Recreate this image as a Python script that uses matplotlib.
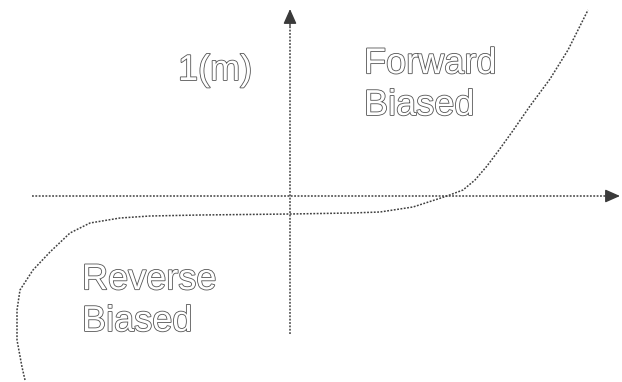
import matplotlib
matplotlib.use("Agg")
import matplotlib.pyplot as plt
import matplotlib.patheffects as pe

# Diode I-V characteristic (arbitrary units)
voltage = [-2.65, -2.68, -2.73, -2.73, -2.70, -2.57, -2.40, -2.20, -2.00, -1.70,
           -1.40, -0.90, 0.00, 0.61, 0.90, 1.23, 1.57, 1.73, 1.85, 1.97,
           2.09, 2.22, 2.40, 2.60, 2.78, 2.98]
current = [-1.84, -1.71, -1.44, -1.14, -0.94, -0.74, -0.56, -0.37, -0.27, -0.22,
           -0.20, -0.19, -0.18, -0.17, -0.16, -0.11, 0.00, 0.06, 0.16, 0.30,
           0.46, 0.64, 0.90, 1.17, 1.46, 1.86]

# Axis extents
x_axis = [-2.58, 3.16]
y_axis = [-1.38, 1.70]
x_tip = 3.30
y_tip = 1.87

labels = ["1(m)", "Forward\nBiased", "Reverse\nBiased"]

col = "#404040"
fig = plt.figure(figsize=(6.22, 3.82), dpi=100)
ax = fig.add_axes([0, 0, 1, 1])
ax.set_xlim(-2.90, 3.32)
ax.set_ylim(-1.86, 1.96)
ax.axis("off")

ls = (0, (1.2, 1.0))
ax.plot(x_axis, [0, 0], color=col, lw=1.1, ls=ls)
ax.plot([0, 0], y_axis, color=col, lw=1.1, ls=ls)
ax.annotate("", xy=(x_tip, 0), xytext=(x_axis[1], 0),
            arrowprops=dict(arrowstyle="-|>,head_length=0.9,head_width=0.4",
                            color="#3a3a3a", lw=1, shrinkA=0, shrinkB=0))
ax.annotate("", xy=(0, y_tip), xytext=(0, y_axis[1]),
            arrowprops=dict(arrowstyle="-|>,head_length=0.9,head_width=0.4",
                            color="#3a3a3a", lw=1, shrinkA=0, shrinkB=0))

ax.plot(voltage, current, color=col, lw=1.1, ls=ls)

eff = [pe.withStroke(linewidth=1.2, foreground="#555555")]
txt = dict(fontsize=26, family="Liberation Sans", color="white",
           path_effects=eff, va="baseline", ha="left", linespacing=1.25)
ax.text(-1.12, 1.16, labels[0], **txt)
ax.text(0.74, 0.81, labels[1], **txt)
ax.text(-2.08, -1.35, labels[2], **txt)

fig.savefig("out.png", dpi=100)
